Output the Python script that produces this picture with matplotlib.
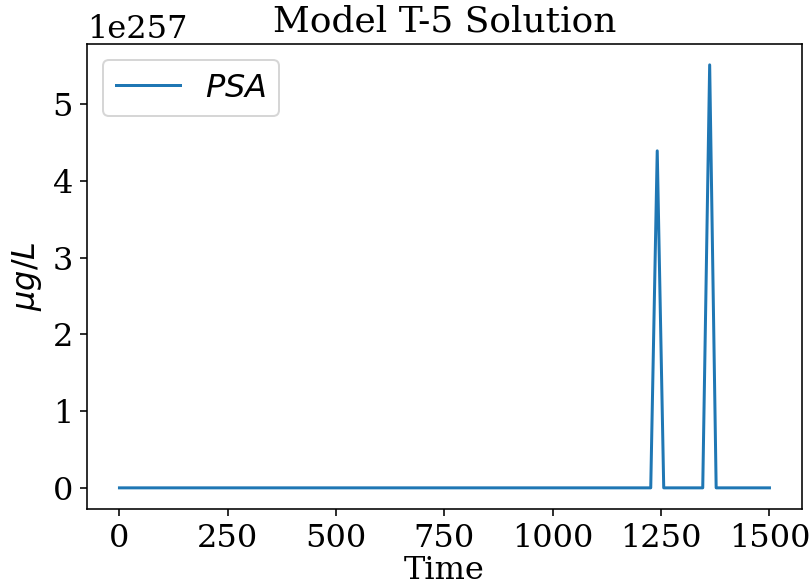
import matplotlib
matplotlib.use("Agg")
import matplotlib.pyplot as plt

# PSA solution (in units of 1e257)
time = [0, 1226, 1241, 1256, 1346, 1362, 1377, 1500]
psa = [0.0, 0.0, 4.39, 0.0, 0.0, 5.51, 0.0, 0.0]
scale = 1e257
xticks = [0, 250, 500, 750, 1000, 1250, 1500]

plt.rcParams['font.family'] = 'DejaVu Serif'
plt.rcParams['font.size'] = 16

dpi = 144
fig = plt.figure(figsize=(809 / dpi, 586 / dpi), dpi=dpi)
ax = fig.add_axes([0.1075, 0.1314, 0.8838, 0.794])

ax.plot(time, [v * scale for v in psa], label='$PSA$')
ax.set_xticks(xticks)
ax.set_xlabel('Time', labelpad=0.5)
ax.set_ylabel(r'$\mu g/L$')
ax.set_title('Model T-5 Solution', fontsize=18)
ax.legend(loc='upper left')

fig.savefig('out.png', dpi=dpi)
